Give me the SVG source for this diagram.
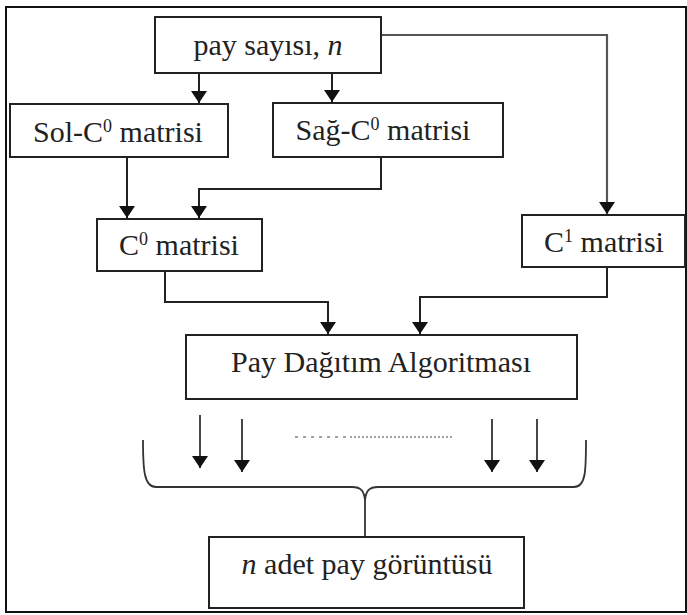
<svg xmlns="http://www.w3.org/2000/svg" width="687" height="615" viewBox="0 0 687 615">
<defs>
<style>
.box{fill:#fff;stroke:#222;stroke-width:2}
.t{font-family:"Liberation Serif","Times New Roman",serif;font-size:30px;fill:#222;text-anchor:middle}
.sup{font-size:18px}
.c{fill:none;stroke:#222;stroke-width:2}
.g{fill:none;stroke:#555;stroke-width:2.2}
.b{fill:none;stroke:#333;stroke-width:1.8}
</style>
<marker id="ah" viewBox="0 0 12 16" refX="12" refY="8" markerWidth="12" markerHeight="16" markerUnits="userSpaceOnUse" orient="auto">
<path d="M0,0 L12,8 L0,16 Z" fill="#111"/>
</marker>
</defs>
<rect width="687" height="615" fill="#fff"/>
<rect x="6" y="7" width="680" height="605" fill="none" stroke="#111" stroke-width="2"/>

<g id="connectors">
<path class="c" d="M199,73 V103" marker-end="url(#ah)"/>
<path class="c" d="M332,73 V102" marker-end="url(#ah)"/>
<path class="g" d="M381,35 H607 V214" marker-end="url(#ah)"/>
<path class="c" d="M127,157 V218" marker-end="url(#ah)"/>
<path class="c" d="M381,157 V189 H199 V218" marker-end="url(#ah)"/>
<path class="c" d="M165,271 V302 H328 V334" marker-end="url(#ah)"/>
<path class="c" d="M607,267 V297 H420 V334" marker-end="url(#ah)"/>
<path class="b" d="M200,415 V468" marker-end="url(#ah)"/>
<path class="b" d="M242,419 V472" marker-end="url(#ah)"/>
<path class="b" d="M492,419 V472" marker-end="url(#ah)"/>
<path class="b" d="M537,419 V472" marker-end="url(#ah)"/>
<path d="M295,437 H348" stroke="#444" stroke-width="1.2" stroke-dasharray="3 5" fill="none"/>
<path d="M350,437 H453" stroke="#444" stroke-width="1.2" stroke-dasharray="2 2" fill="none"/>
<path class="b" d="M143,440 C143,470 144,487 156,487 L352,487 C361,487 364,491 365,500 C366,491 369,487 378,487 L574,487 C586,487 586,470 586,440"/>
<path class="b" d="M365,498 V536"/>
</g>

<g id="pay-sayisi">
<rect class="box" x="155" y="17" width="226" height="56"/>
<text class="t" x="268" y="55">pay sayısı, <tspan font-style="italic">n</tspan></text>
</g>
<g id="sol-c0">
<rect class="box" x="10" y="104" width="218" height="53"/>
<text class="t" x="118" y="142">Sol-C<tspan class="sup" dy="-10">0</tspan><tspan dy="10"> matrisi</tspan></text>
</g>
<g id="sag-c0">
<rect class="box" x="273" y="103" width="230" height="54"/>
<text class="t" x="383" y="140">Sağ-C<tspan class="sup" dy="-10">0</tspan><tspan dy="10"> matrisi</tspan></text>
</g>
<g id="c0">
<rect class="box" x="97" y="219" width="165" height="52"/>
<text class="t" x="179" y="255">C<tspan class="sup" dy="-10">0</tspan><tspan dy="10"> matrisi</tspan></text>
</g>
<g id="c1">
<rect class="box" x="522" y="215" width="163" height="52"/>
<text class="t" x="604" y="252">C<tspan class="sup" dy="-10">1</tspan><tspan dy="10"> matrisi</tspan></text>
</g>
<g id="pay-dagitim">
<rect class="box" x="186" y="335" width="391" height="64"/>
<text class="t" x="381" y="372">Pay Dağıtım Algoritması</text>
</g>
<g id="n-adet">
<rect class="box" x="209" y="537" width="315" height="71"/>
<text class="t" x="367" y="574"><tspan font-style="italic">n</tspan> adet pay görüntüsü</text>
</g>
</svg>
